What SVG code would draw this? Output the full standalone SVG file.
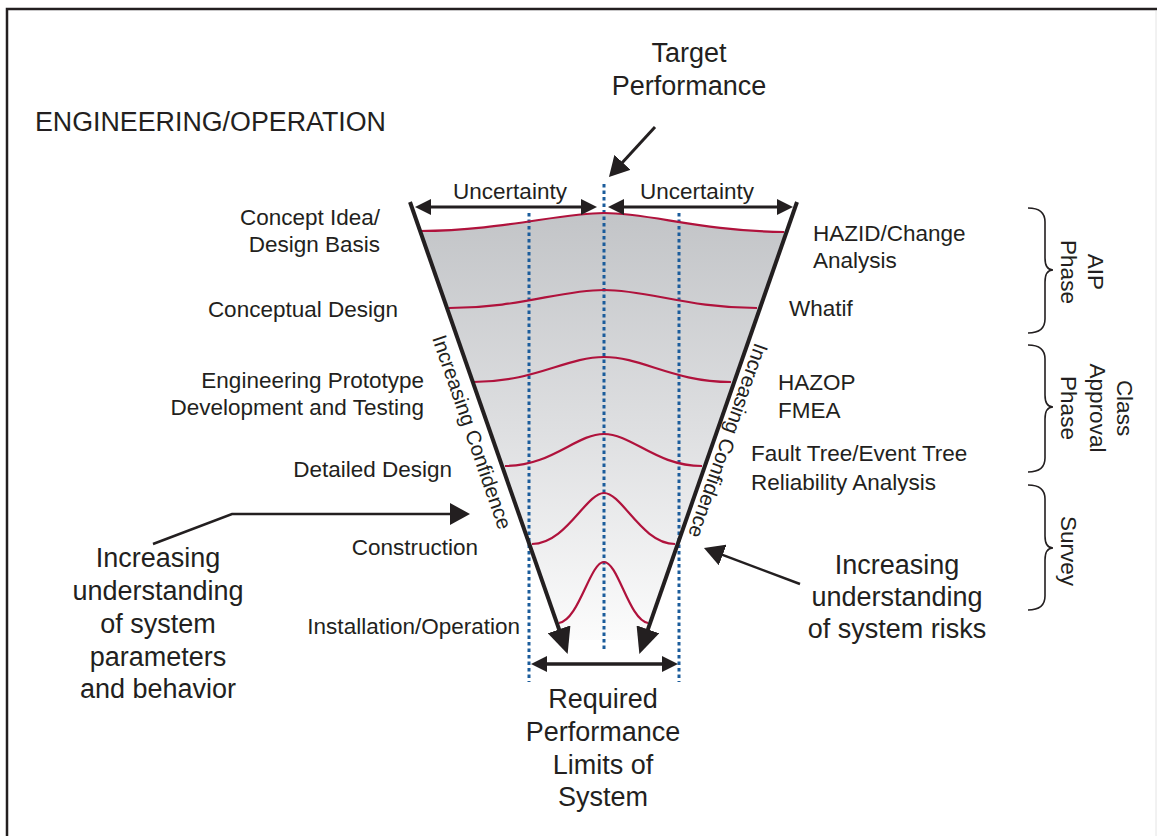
<svg xmlns="http://www.w3.org/2000/svg" width="1157" height="836" viewBox="0 0 1157 836">
  <style>
    text { font-family: "Liberation Sans", Arial, Helvetica, sans-serif; fill: #231f20; }
    .lbl { font-size: 22.5px; }
    .big { font-size: 27px; }
    .head { font-size: 26.8px; }
    .conf { font-size: 20.5px; }
    .dark { stroke: #231f20; fill: none; }
    .bell { stroke: #b0123c; stroke-width: 2.2; fill: none; }
    .dots { stroke: #1b5c9b; stroke-width: 3; stroke-dasharray: 3.5 3; fill: none; }
    .brace { stroke: #231f20; stroke-width: 1.6; fill: none; }
  </style>
  <defs>
    <linearGradient id="funnelFill" x1="0" y1="210" x2="0" y2="650" gradientUnits="userSpaceOnUse">
      <stop offset="0" stop-color="#c2c4c7"/>
      <stop offset="0.5" stop-color="#dedfe1"/>
      <stop offset="1" stop-color="#fdfdfd"/>
    </linearGradient>
    <!-- heavy arrowhead for the funnel sides -->
    <marker id="bigHead" markerUnits="userSpaceOnUse" markerWidth="26" markerHeight="24" refX="8" refY="12" orient="auto">
      <path d="M0,0 L26,12 L0,24 z" fill="#231f20"/>
    </marker>
    <!-- pointer arrowhead -->
    <marker id="ptrHead" markerUnits="userSpaceOnUse" markerWidth="20" markerHeight="22" refX="8" refY="11" orient="auto">
      <path d="M0,0 L20,11 L0,22 z" fill="#231f20"/>
    </marker>
    <!-- dimension arrowhead, both ends -->
    <marker id="dimHead" markerUnits="userSpaceOnUse" markerWidth="16" markerHeight="16" refX="6" refY="8" orient="auto-start-reverse">
      <path d="M0,0 L16,8 L0,16 z" fill="#231f20"/>
    </marker>
  </defs>

  <!-- outer frame -->
  <rect x="7" y="9" width="1162" height="840" fill="none" stroke="#231f20" stroke-width="2.5"/>
  <line x1="1156" y1="11" x2="1156" y2="836" stroke="#e4e4e4" stroke-width="1"/>

  <text class="head" x="35" y="131">ENGINEERING/OPERATION</text>

  <g id="target-label">
    <text class="big" x="689" y="62" text-anchor="middle">Target</text>
    <text class="big" x="689" y="95" text-anchor="middle">Performance</text>
  </g>

  <!-- funnel body -->
  <g id="funnel">
    <path d="M420,231 C500,231 560,213 604,213 C650,213 700,231 787,231 L645,640 L561,640 z" fill="url(#funnelFill)"/>
    <path class="dots" d="M529,213 V682"/>
    <path class="dots" d="M604,184 V650"/>
    <path class="dots" d="M679,213 V682"/>
    <path class="bell" d="M420,231 C500,231 560,213 604,213 C650,213 700,231 784,232"/>
    <path class="bell" d="M449,308 C520,308 560,290 604,290 C648,290 688,308 757,308"/>
    <path class="bell" d="M473,382 C535,382 566,357 604,357 C642,357 673,382 731,382"/>
    <path class="bell" d="M505,466 C552,466 576,434 604,434 C632,434 656,466 702,466"/>
    <path class="bell" d="M532,544 C566,544 586,493 604,493 C622,493 642,544 675,544"/>
    <path class="bell" d="M559,623 C579,620 590,562 604,562 C618,562 629,620 648,623"/>
    <line class="dark" x1="410" y1="202" x2="561.7" y2="636.9" stroke-width="4" marker-end="url(#bigHead)"/>
    <line class="dark" x1="797" y1="202" x2="645.3" y2="636.9" stroke-width="4" marker-end="url(#bigHead)"/>
    <text class="conf" transform="translate(432,338) rotate(70.9)">Increasing Confidence</text>
    <text class="conf" transform="translate(755,342) rotate(109.2)">Increasing Confidence</text>
  </g>

  <!-- connectors and dimension arrows -->
  <g id="connectors">
    <line class="dark" x1="425" y1="207" x2="587" y2="207" stroke-width="3" marker-start="url(#dimHead)" marker-end="url(#dimHead)"/>
    <line class="dark" x1="618" y1="207" x2="783" y2="207" stroke-width="3" marker-start="url(#dimHead)" marker-end="url(#dimHead)"/>
    <line class="dark" x1="541" y1="664" x2="668" y2="664" stroke-width="3.5" marker-start="url(#dimHead)" marker-end="url(#dimHead)"/>
    <line class="dark" x1="655" y1="127" x2="617.1" y2="168.2" stroke-width="3" marker-end="url(#ptrHead)"/>
    <polyline class="dark" points="153,544 232,514 458,514" stroke-width="2.5" marker-end="url(#ptrHead)"/>
    <line class="dark" x1="800" y1="584" x2="715.2" y2="552.2" stroke-width="2.5" marker-end="url(#ptrHead)"/>
  </g>

  <g id="uncertainty-labels">
    <text class="lbl" x="510" y="199" text-anchor="middle">Uncertainty</text>
    <text class="lbl" x="697" y="199" text-anchor="middle">Uncertainty</text>
  </g>

  <!-- design stages -->
  <g id="stages" text-anchor="end">
    <text class="lbl" x="380" y="225">Concept Idea/</text>
    <text class="lbl" x="380" y="252">Design Basis</text>
    <text class="lbl" x="398" y="317">Conceptual Design</text>
    <text class="lbl" x="424" y="388">Engineering Prototype</text>
    <text class="lbl" x="424" y="415">Development and Testing</text>
    <text class="lbl" x="452" y="477">Detailed Design</text>
    <text class="lbl" x="478" y="555">Construction</text>
    <text class="lbl" x="520" y="634">Installation/Operation</text>
  </g>

  <!-- analysis methods -->
  <g id="methods">
    <text class="lbl" x="813" y="241">HAZID/Change</text>
    <text class="lbl" x="813" y="268">Analysis</text>
    <text class="lbl" x="789" y="316">Whatif</text>
    <text class="lbl" x="778" y="390">HAZOP</text>
    <text class="lbl" x="778" y="418">FMEA</text>
    <text class="lbl" x="751" y="461">Fault Tree/Event Tree</text>
    <text class="lbl" x="751" y="490">Reliability Analysis</text>
  </g>

  <g id="system-parameters" text-anchor="middle">
    <text class="big" x="158" y="567">Increasing</text>
    <text class="big" x="158" y="600">understanding</text>
    <text class="big" x="158" y="633">of system</text>
    <text class="big" x="158" y="666">parameters</text>
    <text class="big" x="158" y="698">and behavior</text>
  </g>

  <g id="system-risks" text-anchor="middle">
    <text class="big" x="897" y="574">Increasing</text>
    <text class="big" x="897" y="606">understanding</text>
    <text class="big" x="897" y="638">of system risks</text>
  </g>

  <g id="performance-limits" text-anchor="middle">
    <text class="big" x="603" y="708">Required</text>
    <text class="big" x="603" y="741">Performance</text>
    <text class="big" x="603" y="774">Limits of</text>
    <text class="big" x="603" y="806">System</text>
  </g>

  <!-- phases -->
  <g id="phase-aip">
    <path class="brace" d="M1028,208 Q1045,208 1045,222 L1045,258 Q1045,270 1053,270 Q1045,270 1045,282 L1045,319 Q1045,333 1028,333"/>
    <text class="lbl" text-anchor="middle" transform="translate(1088,272) rotate(90)">AIP</text>
    <text class="lbl" text-anchor="middle" transform="translate(1061,272) rotate(90)">Phase</text>
  </g>
  <g id="phase-class">
    <path class="brace" d="M1028,345 Q1045,345 1045,359 L1045,395 Q1045,407 1053,407 Q1045,407 1045,419 L1045,458 Q1045,472 1028,472"/>
    <text class="lbl" text-anchor="middle" transform="translate(1117,408) rotate(90)">Class</text>
    <text class="lbl" text-anchor="middle" transform="translate(1090,408) rotate(90)">Approval</text>
    <text class="lbl" text-anchor="middle" transform="translate(1061,408) rotate(90)">Phase</text>
  </g>
  <g id="phase-survey">
    <path class="brace" d="M1028,485 Q1045,485 1045,499 L1045,536 Q1045,548 1053,548 Q1045,548 1045,560 L1045,596 Q1045,610 1028,610"/>
    <text class="lbl" text-anchor="middle" transform="translate(1061,551) rotate(90)">Survey</text>
  </g>
</svg>
